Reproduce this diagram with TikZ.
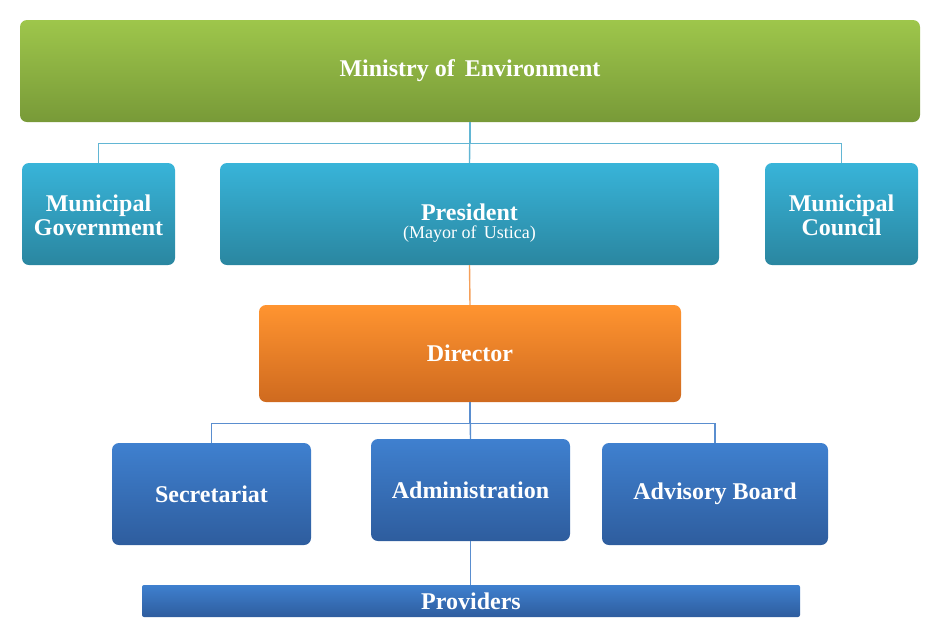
\documentclass[tikz,border=0pt]{standalone}
\usepackage{fontspec}
\setmainfont{Liberation Serif}
\usetikzlibrary{calc}
\definecolor{greentop}{HTML}{9EC64B}
\definecolor{greenbot}{HTML}{789A38}
\definecolor{cyantop}{HTML}{38B4D9}
\definecolor{cyanbot}{HTML}{2A86A0}
\definecolor{orangetop}{HTML}{FF9430}
\definecolor{orangebot}{HTML}{CF6A1F}
\definecolor{bluetop}{HTML}{3F80CF}
\definecolor{bluebot}{HTML}{2E5D9E}
\definecolor{cyanlink}{HTML}{62B6D4}
\definecolor{bluelink}{HTML}{5A8ECF}
\definecolor{orangelink}{HTML}{F5A05A}
\tikzset{
BOX/.style={draw=none,rounded corners=7pt,text=white,align=center,inner sep=2pt,
  font=\fontsize{24}{24}\selectfont\bfseries},
GREEN/.style={BOX,top color=greentop,bottom color=greenbot},
CYAN/.style={BOX,top color=cyantop,bottom color=cyanbot},
ORANGE/.style={BOX,top color=orangetop,bottom color=orangebot},
BLUE/.style={BOX,top color=bluetop,bottom color=bluebot},
LINK/.style={line width=1.4pt,draw=#1},
LINK/.default=cyanlink,
}
\begin{document}
\begin{tikzpicture}[x=1pt,y=-1pt] %organigram
	\useasboundingbox (0,0) rectangle (940,638);
	% top level
	\node[GREEN,minimum width=900,minimum height=102] (ministry) at (470,71) {Ministry of\,\ Environment};
	% second level
	\node[CYAN,minimum width=153,minimum height=102] (mungov) at (98.5,214) {\rule{0pt}{20pt}Municipal\\Government};
	\node[CYAN,minimum width=499,minimum height=102] (president) at (469.5,214) {\rule{0pt}{34pt}President\\[-6pt]{\fontsize{18}{18}\selectfont\mdseries (Mayor of\,\ Ustica)}};
	\node[CYAN,minimum width=153,minimum height=102] (muncouncil) at (841.5,214) {\rule{0pt}{20pt}Municipal\\Council};
	% director
	\node[ORANGE,minimum width=422,minimum height=97] (director) at (470,353.5) {Director};
	% offices
	\node[BLUE,minimum width=199,minimum height=102] (secretariat) at (211.5,494) {Secretariat};
	\node[BLUE,minimum width=199,minimum height=102] (admin) at (470.5,490) {Administration};
	\node[BLUE,minimum width=226,minimum height=102] (advisory) at (715,494) {Advisory Board};
	\node[BLUE,rounded corners=2pt,minimum width=658,minimum height=32] (providers) at (471,601) {Providers};
	% connectors
	\path[LINK] (ministry.south) -- (president.north);
	\path[LINK] (ministry.south) -- ++(0,21) -| (mungov.north);
	\path[LINK] (ministry.south) -- ++(0,21) -| (muncouncil.north);
	\path[LINK=orangelink] (president.south) -- (director.north);
	\path[LINK=bluelink] (director.south) -- (admin.north);
	\path[LINK=bluelink] (director.south) -- ++(0,21) -| (secretariat.north);
	\path[LINK=bluelink] (director.south) -- ++(0,21) -| (advisory.north);
	\path[LINK=bluelink] (admin.south) -- (admin.south |- providers.north);
\end{tikzpicture}
\end{document}
